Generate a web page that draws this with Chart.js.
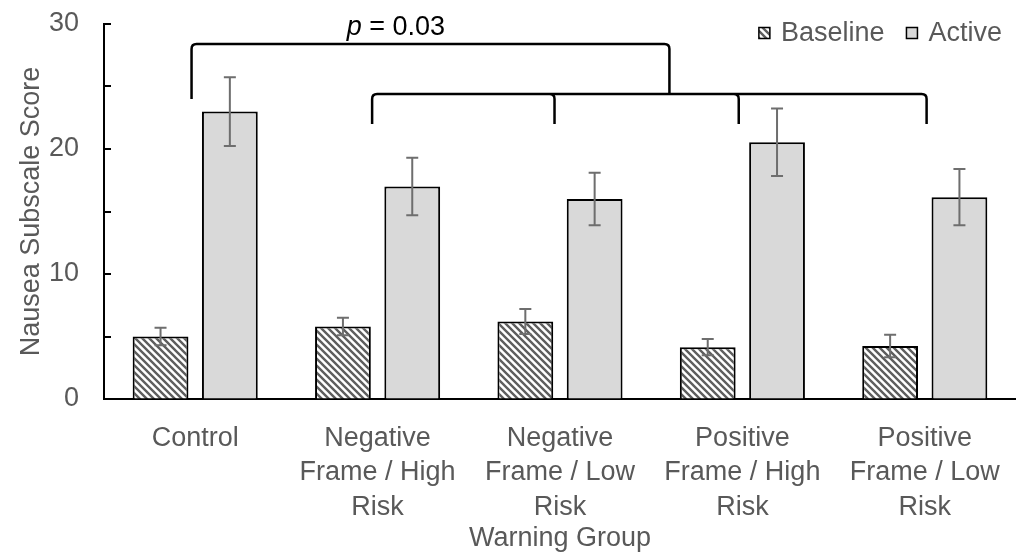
<!DOCTYPE html>
<html>
<head>
<meta charset="utf-8">
<script src="https://cdn.jsdelivr.net/npm/chart.js@4"></script>
<style>
  html, body { margin: 0; padding: 0; background: #fff; }
  #wrap { width: 1022px; height: 552px; }
</style>
</head>
<body>
<div id="wrap"><canvas id="myChart" width="1022" height="552"></canvas></div>
<script>
"use strict";

// Values
const groups = [
	"Control",
	["Negative", "Frame / High", "Risk"],
	["Negative", "Frame / Low", "Risk"],
	["Positive", "Frame / High", "Risk"],
	["Positive", "Frame / Low", "Risk"],
];
const baseline = [5.0, 5.8, 6.2, 4.15, 4.25];
const baselineErr = [0.7, 0.7, 1.0, 0.65, 0.9];
const active = [23.0, 17.0, 16.0, 20.55, 16.15];
const activeErr = [2.75, 2.3, 2.1, 2.7, 2.25];

// Significance brackets, in category index / y units
const topBracket = { from: -0.02, to: 2.6, y: 28.4, drop: 24.0 };
const lowBracket = { legs: [0.97, 1.97, 2.98, 4.01], y: 24.4, drop: 22.0 };
const pLabel = { x: 1.1, y: 29.75, text: "0.03" };

const grey = "#595959";
const font = "'Liberation Sans', Arial, sans-serif";
const fontSize = 27;

// Diagonal hatch for the baseline bars
function makeHatch() {
	const size = 7;
	const c = document.createElement("canvas");
	c.width = size;
	c.height = size;
	const g = c.getContext("2d");
	g.fillStyle = "#fff";
	g.fillRect(0, 0, size, size);
	g.strokeStyle = "#5e5e5e";
	g.lineWidth = 2.4;
	g.beginPath();
	for (let k = -1; k <= 1; k++) {
		g.moveTo(k * size - 1, -1);
		g.lineTo(k * size + size + 1, size + 1);
	}
	g.stroke();
	return g.createPattern(c, "repeat");
}

const hatch = makeHatch();

// Error bars drawn at each bar's own position
const errorBars = {
	id: "errorBars",
	afterDatasetsDraw(chart) {
		const ctx = chart.ctx;
		const y = chart.scales.y;
		const errs = [baselineErr, activeErr];
		ctx.save();
		ctx.strokeStyle = "#6e6e6e";
		ctx.lineWidth = 2;
		chart.data.datasets.forEach(function (ds, d) {
			chart.getDatasetMeta(d).data.forEach(function (bar, i) {
				const v = ds.data[i];
				const hi = y.getPixelForValue(v + errs[d][i]);
				const lo = y.getPixelForValue(v - errs[d][i]);
				ctx.beginPath();
				ctx.moveTo(bar.x, hi);
				ctx.lineTo(bar.x, lo);
				ctx.moveTo(bar.x - 6, hi);
				ctx.lineTo(bar.x + 6, hi);
				ctx.moveTo(bar.x - 6, lo);
				ctx.lineTo(bar.x + 6, lo);
				ctx.stroke();
			});
		});
		ctx.restore();
	},
};

// Tick marks on the y axis point into the plot
const innerTicks = {
	id: "innerTicks",
	afterDraw(chart) {
		const ctx = chart.ctx;
		const y = chart.scales.y;
		const left = chart.chartArea.left;
		ctx.save();
		ctx.strokeStyle = "#000";
		ctx.lineWidth = 2;
		ctx.beginPath();
		y.ticks.forEach(function (t) {
			const yp = Math.round(y.getPixelForValue(t.value));
			ctx.moveTo(left, yp);
			ctx.lineTo(left + 7, yp);
		});
		ctx.stroke();
		ctx.restore();
	},
};

// Brackets and the p value above the bars
const brackets = {
	id: "brackets",
	afterDatasetsDraw(chart) {
		const ctx = chart.ctx;
		const x = chart.scales.x;
		const y = chart.scales.y;
		const px = (v) => x.getPixelForValue(v);
		const r = 5;

		function leg(xp, top, bottom, side) {
			// a slightly rounded corner into the vertical leg
			ctx.moveTo(xp + side * r, top);
			ctx.quadraticCurveTo(xp, top, xp, top + r);
			ctx.lineTo(xp, bottom);
		}

		ctx.save();
		ctx.strokeStyle = "#000";
		ctx.lineWidth = 2.5;

		const ty = y.getPixelForValue(topBracket.y);
		const tb = y.getPixelForValue(topBracket.drop);
		ctx.beginPath();
		ctx.moveTo(px(topBracket.from) + r, ty);
		ctx.lineTo(px(topBracket.to) - r, ty);
		leg(px(topBracket.from), ty, tb, 1);
		leg(px(topBracket.to), ty, y.getPixelForValue(lowBracket.y), -1);
		ctx.stroke();

		const ly = y.getPixelForValue(lowBracket.y);
		const lb = y.getPixelForValue(lowBracket.drop);
		const legs = lowBracket.legs;
		ctx.beginPath();
		ctx.moveTo(px(legs[0]) + r, ly);
		ctx.lineTo(px(legs[legs.length - 1]) - r, ly);
		legs.forEach(function (l, k) {
			const xp = px(l);
			if (k === 0) {
				leg(xp, ly, lb, 1);
			} else if (k === legs.length - 1) {
				leg(xp, ly, lb, -1);
			} else {
				ctx.moveTo(xp - r, ly);
				ctx.quadraticCurveTo(xp, ly, xp, ly + r);
				ctx.lineTo(xp, lb);
			}
		});
		ctx.stroke();

		// "p = 0.03" with an italic p
		const cx = px(pLabel.x);
		const cy = y.getPixelForValue(pLabel.y);
		ctx.fillStyle = "#000";
		ctx.textBaseline = "middle";
		ctx.textAlign = "left";
		ctx.font = "italic " + fontSize + "px " + font;
		const pw = ctx.measureText("p").width;
		ctx.font = fontSize + "px " + font;
		const rest = " = " + pLabel.text;
		const rw = ctx.measureText(rest).width;
		const start = cx - (pw + rw) / 2;
		ctx.font = "italic " + fontSize + "px " + font;
		ctx.fillText("p", start, cy);
		ctx.font = fontSize + "px " + font;
		ctx.fillText(rest, start + pw, cy);
		ctx.restore();
	},
};

// Legend inside the plot, top right
const insideLegend = {
	id: "insideLegend",
	afterDraw(chart) {
		const ctx = chart.ctx;
		const area = chart.chartArea;
		const box = 11;
		const gap = 11;
		const between = 22;
		ctx.save();
		ctx.font = fontSize + "px " + font;
		ctx.textBaseline = "middle";
		ctx.textAlign = "left";
		const sets = chart.data.datasets;
		const widths = sets.map((ds) => box + gap + ctx.measureText(ds.label).width);
		let xp = area.right - 14 - widths.reduce((a, b) => a + b, 0) - between * (sets.length - 1);
		const cy = area.top + 9;
		sets.forEach(function (ds, i) {
			ctx.fillStyle = ds.backgroundColor;
			ctx.fillRect(xp, cy - box / 2, box, box);
			ctx.strokeStyle = "#000";
			ctx.lineWidth = 1.5;
			ctx.strokeRect(xp, cy - box / 2, box, box);
			ctx.fillStyle = grey;
			ctx.fillText(ds.label, xp + box + gap, cy + 1);
			xp += widths[i] + between;
		});
		ctx.restore();
	},
};

new Chart(document.getElementById("myChart"), {
	type: "bar",
	data: {
		labels: groups,
		datasets: [
			{
				label: "Baseline",
				data: baseline,
				backgroundColor: hatch,
				borderColor: "#000",
				borderWidth: 2,
			},
			{
				label: "Active",
				data: active,
				backgroundColor: "#d9d9d9",
				borderColor: "#000",
				borderWidth: 2,
			},
		],
	},
	options: {
		responsive: false,
		animation: false,
		devicePixelRatio: 1,
		categoryPercentage: 0.76,
		barPercentage: 0.805,
		layout: { padding: { top: 24, right: 2, left: 15, bottom: 0 } },
		plugins: {
			tooltip: { enabled: false },
			legend: { display: false },
		},
		scales: {
			x: {
				afterFit(scale) {
					scale.height = 153;
				},
				grid: { display: false, drawTicks: false },
				border: { color: "#000", width: 2 },
				ticks: {
					color: grey,
					font: { family: font, size: fontSize, lineHeight: 1.28 },
					padding: 22,
					maxRotation: 0,
					autoSkip: false,
				},
				title: {
					display: true,
					text: "Warning Group",
					color: grey,
					font: { family: font, size: fontSize, lineHeight: 1.0 },
					padding: { top: 0, bottom: 0 },
				},
			},
			y: {
				min: 0,
				max: 30,
				afterFit(scale) {
					scale.width = 89;
					scale.paddingTop = 0;
					scale.paddingBottom = 0;
				},
				grid: {
					drawOnChartArea: false,
					drawTicks: false,
				},
				border: { color: "#000", width: 2 },
				ticks: {
					stepSize: 5,
					color: grey,
					font: { family: font, size: fontSize },
					padding: 25,
					callback: function (v) {
						return v % 10 === 0 ? v : "";
					},
				},
				title: {
					display: true,
					text: "Nausea Subscale Score",
					color: grey,
					font: { family: font, size: fontSize },
					padding: { top: 0, bottom: 2 },
				},
			},
		},
	},
	plugins: [errorBars, brackets, innerTicks, insideLegend],
});
</script>
</body>
</html>
